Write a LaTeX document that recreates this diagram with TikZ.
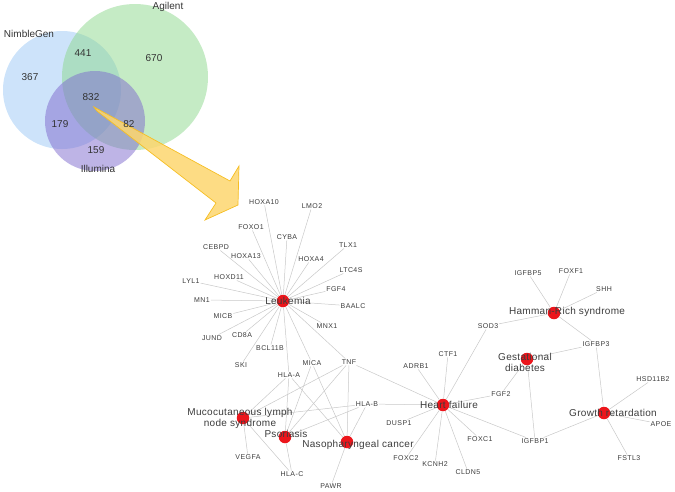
\documentclass[tikz,border=0pt]{standalone}
\usepackage{fontspec}
\setmainfont{Liberation Sans}

\definecolor{txtgray}{RGB}{60,60,60}
\definecolor{edgegray}{RGB}{200,200,200}
\definecolor{dred}{RGB}{236,22,28}
\definecolor{nimbleC}{RGB}{155,200,245}
\definecolor{agilentC}{RGB}{140,215,140}
\definecolor{illuminaC}{RGB}{125,105,205}
\definecolor{arrowC}{RGB}{253,214,110}
\definecolor{arrowD}{RGB}{246,190,35}

\tikzset{
  gene/.style={font=\fontsize{7}{8}\selectfont\addfontfeatures{LetterSpace=6}, text=txtgray, inner sep=0.8pt},
  disease/.style={circle, fill=dred, minimum size=12.5pt, inner sep=0pt},
  dlabel/.style={font=\fontsize{10}{11}\selectfont\addfontfeatures{LetterSpace=3}, text=txtgray, align=center, inner sep=0pt},
  link/.style={draw=edgegray, line width=0.5pt},
  vtext/.style={font=\fontsize{10}{12}\selectfont, text=black!80},
}

\begin{document}
\begin{tikzpicture}[x=1pt, y=-1pt]
            \useasboundingbox (0,0) rectangle (675,491);
            % Venn
            \fill[nimbleC, fill opacity=0.5] (62,90) circle (59);
            \fill[agilentC, fill opacity=0.5] (135,77) circle (73);
            \fill[illuminaC, fill opacity=0.5] (95,121) circle (50);
            \node[vtext] (nimble) at (29,34) {NimbleGen};
            \node[vtext] (agilent) at (168,7) {Agilent};
            \node[vtext] (illumina) at (98,169) {Illumina};
            \node[vtext] (n367) at (30,77) {367};
            \node[vtext] (n441) at (83,53) {441};
            \node[vtext] (n670) at (154,58) {670};
            \node[vtext] (n832) at (91,97) {832};
            \node[vtext] (n179) at (60,124) {179};
            \node[vtext] (n159) at (96,150) {159};
            % Arrow
            \filldraw[fill=arrowC, fill opacity=0.85, draw=arrowD, line width=0.7pt, line join=miter]
                (94,107) -- (230,181) -- (239,166) -- (238,205) -- (205,220) -- (216,203) -- (97,111) -- cycle;
            \node[vtext] (n82) at (129,124) {82};
            % Genes
            \foreach \g/\x/\y in {HOXA10/264/202, LMO2/312/206, FOXO1/251/227, CYBA/287/237,
                CEBPD/216/247, HOXA13/246/256, TLX1/348/245, HOXA4/311/259, LTC4S/351/270,
                HOXD11/229/277, LYL1/191/281, FGF4/336/289, MN1/202/300, BAALC/353/306,
                MICB/223/316, MNX1/327/326, JUND/212/338, CD8A/242/335, BCL11B/270/348,
                SKI/241/365, HLA-A/289/375, MICA/312/363, TNF/349/362, HLA-B/367/404,
                VEGFA/248/457, HLA-C/292/474, PAWR/331/486,
                ADRB1/416/366, CTF1/448/354, SOD3/488/326, FGF2/501/394, DUSP1/399/423,
                FOXC2/406/458, KCNH2/435/464, CLDN5/468/472, FOXC1/480/439, IGFBP1/535/441,
                IGFBP5/528/273, FOXF1/571/271, SHH/604/289, IGFBP3/596/344,
                HSD11B2/653/379, APOE/661/424, FSTL3/629/458}
                \node[gene] (\g) at (\x,\y) {\g};
            % Diseases
            \node[disease] (leuk) at (283,301) {};
            \node[disease] (muco) at (243,418) {};
            \node[disease] (psor) at (285,437) {};
            \node[disease] (naso) at (347,442) {};
            \node[disease] (heart) at (443,405) {};
            \node[disease] (hamman) at (554,313) {};
            \node[disease] (gest) at (527,359) {};
            \node[disease] (growth) at (604,413) {};
            % Links
            \foreach \g in {HOXA10, LMO2, FOXO1, CYBA, CEBPD, HOXA13, TLX1, HOXA4, LTC4S, HOXD11,
                LYL1, FGF4, MN1, BAALC, MICB, MNX1, JUND, CD8A, BCL11B, SKI, HLA-A, MICA, TNF}
                \draw[link] (leuk) -- (\g);
            \foreach \g in {VEGFA, HLA-C, HLA-A, TNF, HLA-B}
                \draw[link] (muco) -- (\g);
            \foreach \g in {HLA-A, MICA, TNF, HLA-B, HLA-C}
                \draw[link] (psor) -- (\g);
            \foreach \g in {HLA-A, MICA, TNF, HLA-B, PAWR}
                \draw[link] (naso) -- (\g);
            \foreach \g in {TNF, HLA-B, ADRB1, CTF1, SOD3, FGF2, DUSP1, FOXC2, KCNH2, CLDN5, FOXC1, IGFBP1}
                \draw[link] (heart) -- (\g);
            \foreach \g in {IGFBP5, FOXF1, SHH, SOD3, IGFBP3}
                \draw[link] (hamman) -- (\g);
            \foreach \g in {IGFBP3, FGF2, IGFBP1}
                \draw[link] (gest) -- (\g);
            \foreach \g in {IGFBP3, HSD11B2, APOE, FSTL3, IGFBP1}
                \draw[link] (growth) -- (\g);
            % Disease labels
            \node[dlabel] (leukT) at (288,301) {Leukemia};
            \node[dlabel] (mucoT) at (240,418) {Mucocutaneous lymph\\node syndrome};
            \node[dlabel] (psorT) at (286,434) {Psoriasis};
            \node[dlabel] (nasoT) at (358,445) {Nasopharyngeal cancer};
            \node[dlabel] (heartT) at (449,405) {Heart failure};
            \node[dlabel] (hammanT) at (567,312) {Hamman-Rich syndrome};
            \node[dlabel] (gestT) at (525,362) {Gestational\\diabetes};
            \node[dlabel] (growthT) at (613,413) {Growth retardation};
        \end{tikzpicture}
\end{document}
